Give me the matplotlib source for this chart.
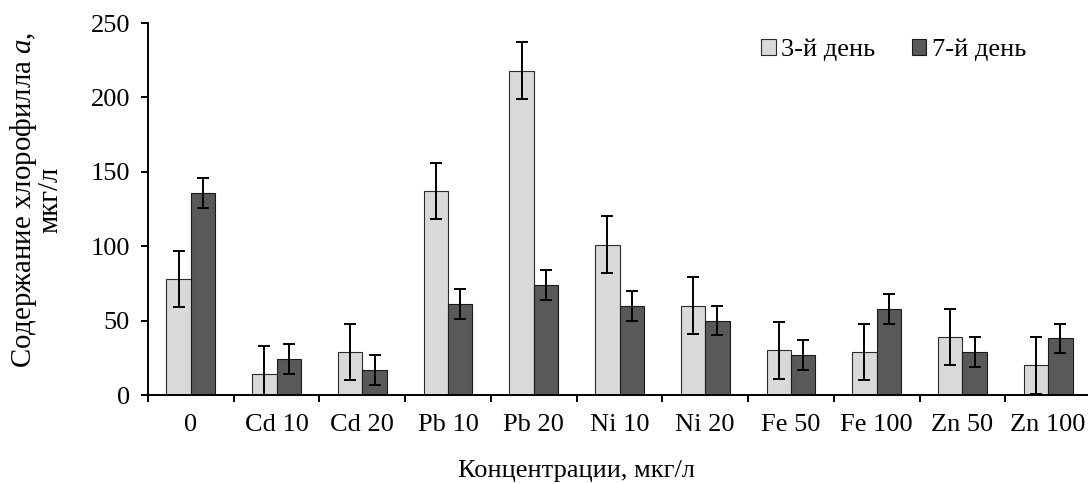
import numpy as np
import matplotlib
matplotlib.use("Agg")
import matplotlib.pyplot as plt

plt.rcParams['font.family'] = ['Liberation Serif', 'DejaVu Serif']
plt.rcParams['mathtext.fontset'] = 'custom'
plt.rcParams['mathtext.rm'] = 'Liberation Serif'
plt.rcParams['mathtext.it'] = 'Liberation Serif:italic'

categories = ['0', 'Cd 10', 'Cd 20', 'Pb 10', 'Pb 20', 'Ni 10', 'Ni 20',
              'Fe 50', 'Fe 100', 'Zn 50', 'Zn 100']
day3 = [78, 14, 29, 137, 218, 101, 60, 30, 29, 39, 20]
day3_err = [19, 19, 19, 19, 19, 19, 19, 19, 19, 19, 19]
day7 = [136, 24, 17, 61, 74, 60, 50, 27, 58, 29, 38]
day7_err = [10, 10, 10, 10, 10, 10, 10, 10, 10, 10, 10]
series_labels = ['3-й день', '7-й день']

FS = 19
fig = plt.figure(figsize=(10.88, 4.84), dpi=100)
ax = fig.add_axes([148 / 1088, 89 / 484, 943 / 1088, 372 / 484])

x = np.arange(len(categories))
w = 0.285
err_kw = dict(ecolor='black', elinewidth=1.4, capsize=4.3, capthick=1.4)
ax.bar(x - w / 2, day3, w, yerr=day3_err, color='#D9D9D9', edgecolor='#2b2b2b',
       linewidth=0.8, error_kw=err_kw, label=series_labels[0])
ax.bar(x + w / 2, day7, w, yerr=day7_err, color='#595959', edgecolor='#1a1a1a',
       linewidth=0.8, error_kw=err_kw, label=series_labels[1])

ax.set_xlim(-0.5, len(categories) - 0.5)
ax.set_ylim(0, 250)
ax.set_yticks(np.arange(0, 251, 50))
ax.set_xticks(x)
ax.set_xticklabels(categories, fontsize=FS)
ax.set_xticks(np.arange(-0.5, len(categories), 1), minor=True)
ax.tick_params(axis='x', which='major', length=0, pad=14)
ax.tick_params(axis='x', which='minor', length=5, width=1.4, direction='out')
ax.tick_params(axis='y', which='major', length=5, width=1.4, direction='out',
               labelsize=FS, pad=8)

for side in ('top', 'right'):
    ax.spines[side].set_visible(False)
for side in ('left', 'bottom'):
    ax.spines[side].set_linewidth(1.4)

fig.text(576 / 1088, 1 - 471 / 484, 'Концентрации, мкг/л', fontsize=FS,
         ha='center', va='center')
fig.text(36 / 1088, 1 - 200 / 484, 'Содержание хлорофилла $a$,\nмкг/л',
         fontsize=20.8, rotation=90, ha='center', va='center',
         multialignment='center', linespacing=0.93)

ax.legend(loc='center left', bbox_to_anchor=(761 / 1088, 1 - 50 / 484),
          bbox_transform=fig.transFigure, frameon=False, ncol=2,
          fontsize=FS, handlelength=0.55, handleheight=0.55,
          handletextpad=0.2, columnspacing=1.4, borderpad=0, borderaxespad=0)

fig.savefig('out.png', dpi=100)
